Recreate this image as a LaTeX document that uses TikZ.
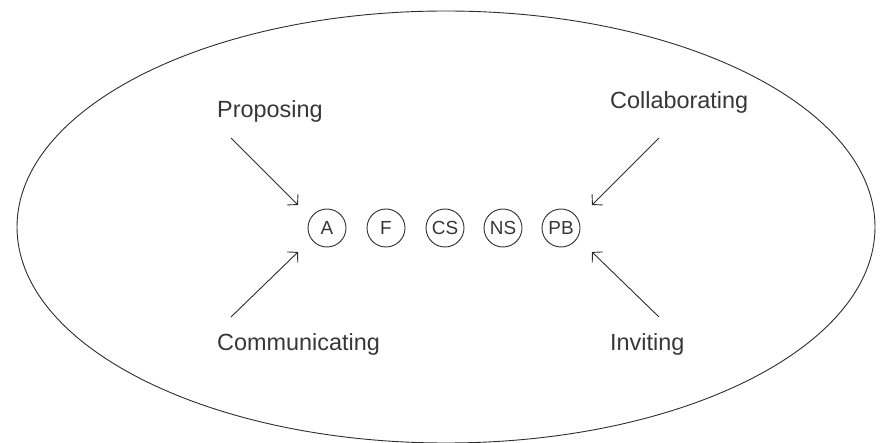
\documentclass[tikz,border=0pt]{standalone}
\usepackage{fontspec}
\setmainfont{Liberation Sans}
\usetikzlibrary{arrows.meta}
\definecolor{ink}{RGB}{45,45,45}
\definecolor{txt}{RGB}{55,55,55}
\tikzset{
  lbl/.style={anchor=base west, inner sep=0pt, text=txt, font=\fontsize{23.5}{26}\selectfont},
  agent/.style={draw=ink, line width=0.9bp, circle, minimum size=38bp, inner sep=0pt, text=txt, font=\fontsize{19}{21}\selectfont},
  arr/.style={draw=ink, line width=0.9bp, -{Straight Barb[length=7bp,width=15bp,line width=0.9bp]}},
  outline/.style={draw=ink, line width=0.9bp}
}
\begin{document}
\begin{tikzpicture}[x=1bp,y=-1bp]
\useasboundingbox (0,0) rectangle (880,443);
\draw[outline] (446,227) ellipse [x radius=429, y radius=216];
\node[agent] (A)  at (327,228) {A};
\node[agent] (F)  at (386,228) {F};
\node[agent] (CS) at (445,228) {CS};
\node[agent] (NS) at (503,228) {NS};
\node[agent] (PB) at (561,228) {PB};
\node[lbl] (prop) at (217,118) {Proposing};
\node[lbl] (coll) at (610,109) {Collaborating};
\node[lbl] (comm) at (217,351) {Communicating};
\node[lbl] (invi) at (610,351) {Inviting};
\coordinate (ps) at (231,138);
\coordinate (pe) at (298,205);
\coordinate (cs) at (659,138);
\coordinate (ce) at (592,205);
\coordinate (ms) at (231,317);
\coordinate (me) at (298,252);
\coordinate (is) at (659,317);
\coordinate (ie) at (592,252);
\draw[arr] (ps) -- (pe);
\draw[arr] (cs) -- (ce);
\draw[arr] (ms) -- (me);
\draw[arr] (is) -- (ie);
\end{tikzpicture}
\end{document}
